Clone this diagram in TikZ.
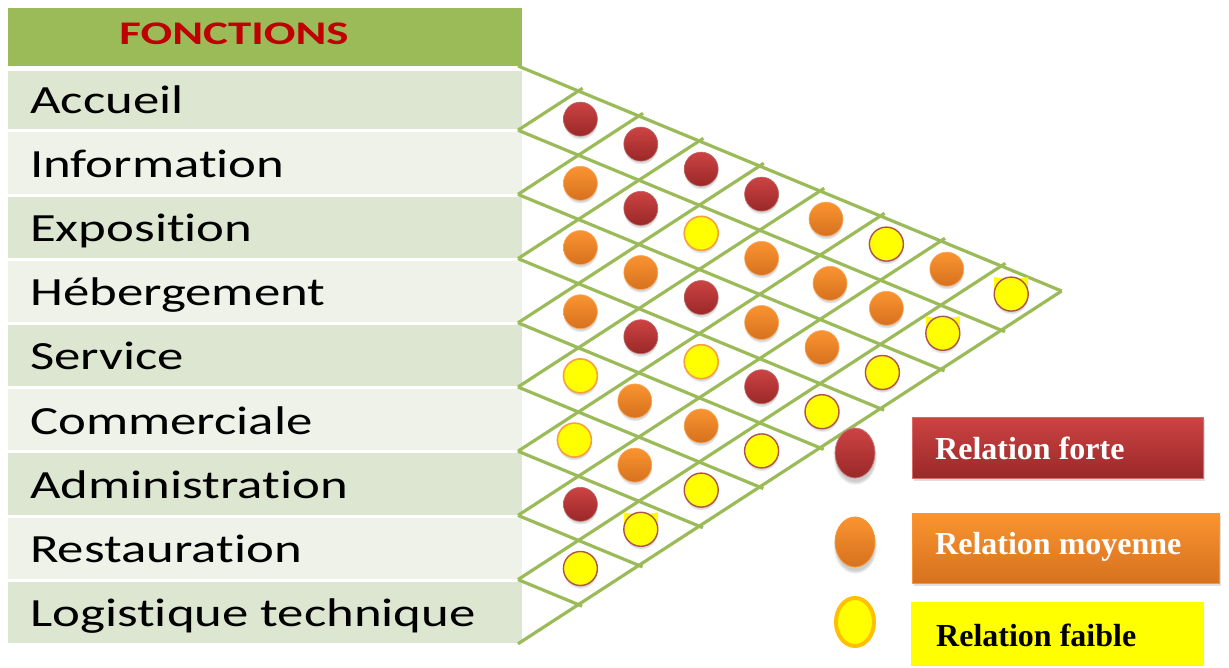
\documentclass[tikz,border=0pt]{standalone}
\usepackage{fontspec}
\setmainfont{Carlito}[Ligatures={NoCommon}]
\newfontfamily\legendfont{Liberation Serif}
\usetikzlibrary{shadows,calc,shapes.geometric}
\definecolor{hdrgreen}{HTML}{9BBB59}
\definecolor{rowdark}{HTML}{DDE6D0}
\definecolor{rowlight}{HTML}{EEF2E8}
\definecolor{fnred}{HTML}{C00000}
\definecolor{gridgreen}{HTML}{9BBB59}
\definecolor{redtop}{HTML}{CD4343}
\definecolor{redbot}{HTML}{9A2828}
\definecolor{orgtop}{HTML}{FA9430}
\definecolor{orgbot}{HTML}{D6711F}
\definecolor{ybordero}{HTML}{F7A040}
\definecolor{yborderb}{HTML}{B0524A}
\definecolor{ylegborder}{HTML}{FFC000}
\definecolor{pureyellow}{HTML}{FFFF00}
\newcommand{\hstretch}[2]{\scalebox{#1}[1]{#2}}
\begin{document}
\begin{tikzpicture}[x=1pt,y=-1pt,
  rowbox/.style={rectangle, draw=none, inner sep=0pt, minimum width=514pt, anchor=north west},
  rowlabel/.style={anchor=base west, inner sep=0pt, font=\fontsize{40}{40}\selectfont},
  gridline/.style={draw=gridgreen, line width=3.2pt},
  dotbase/.style={circle, minimum size=34pt, inner sep=0pt,
     circular drop shadow={shadow xshift=0pt, shadow yshift=-3pt, shadow scale=1.02, opacity=0.35}},
  dotR/.style={dotbase, top color=redtop, bottom color=redbot, draw=redbot!70!white, line width=0.6pt},
  dotO/.style={dotbase, top color=orgtop, bottom color=orgbot, draw=orgtop!80!white, line width=0.6pt},
  dotYo/.style={dotbase, fill=pureyellow, draw=ybordero, line width=1.6pt},
  dotYb/.style={dotbase, fill=pureyellow, draw=yborderb, line width=1.4pt},
  legbox/.style={rectangle, inner sep=0pt, anchor=north west},
  legtext/.style={anchor=base west, inner sep=0pt, font=\legendfont\bfseries\fontsize{32}{32}\selectfont},
  legdot/.style={ellipse, inner sep=0pt, minimum width=40pt, minimum height=50pt}
]
\useasboundingbox (0,0) rectangle (1229,668);
\fill[white] (0,0) rectangle (1229,668);

% header
\node[rowbox, fill=hdrgreen, minimum height=58pt] (hdr) at (8,8) {};
\node[anchor=base, inner sep=0pt, text=fnred, font=\bfseries\fontsize{33}{33}\selectfont] (hdrtxt) at (234,45) {\hstretch{1.42}{FONCTIONS}};

% rows
\foreach \i/\name/\col in {1/Accueil/rowdark, 2/Information/rowlight, 3/Exposition/rowdark,
  4/Hébergement/rowlight, 5/Service/rowdark, 6/Commerciale/rowlight, 7/Administration/rowdark,
  8/Restauration/rowlight, 9/Logistique technique/rowdark}{
  \pgfmathsetmacro{\top}{ifthenelse(\i==1,71,66+64.2*(\i-1)+2)}
  \pgfmathsetmacro{\bot}{66+64.2*\i-1}
  \pgfmathsetmacro{\hgt}{\bot-\top}
  \node[rowbox, fill=\col, minimum height=\hgt pt] (row\i) at (8,\top) {};
  \pgfmathsetmacro{\base}{66+64.2*(\i-0.5)+15}
  \node[rowlabel] (lab\i) at (30,\base) {\hstretch{1.32}{\name}};
}

% grid
\foreach \i in {0,...,9}{ \coordinate (L\i) at (518,{66+64.2*\i}); }
\coordinate (apex) at (1061.6,291);
\draw[gridline] (L0) -- (apex);
\foreach \i in {1,...,8}{
  \draw[gridline, shorten >=-4pt] (L\i) -- ++({60.4*(9-\i)},{25*(9-\i)});
}
\foreach \i in {1,...,8}{
  \draw[gridline, shorten >=-5pt] (L\i) -- ++({60.4*\i},{-39.2*\i});
}
\draw[gridline] (L9) -- (apex);

% ears of a few yellow dots
\foreach \i/\k/\dx in {7/2/0, 2/7/0, 1/8/8}{
  \coordinate (e\i\k) at ({520+60.4*\k+\dx},{29.9+64.2*\i+25*\k});
  \fill[pureyellow] ($(e\i\k)+(-17,-4)$) -- ($(e\i\k)+(-17,-17)$) -- ($(e\i\k)+(-5,-15)$) -- cycle;
  \fill[pureyellow] ($(e\i\k)+(17,-4)$) -- ($(e\i\k)+(17,-17)$) -- ($(e\i\k)+(5,-15)$) -- cycle;
}

% dots
\foreach \i/\k/\t/\dx in {
  1/1/dotR/0, 2/1/dotO/0, 3/1/dotO/0, 4/1/dotO/0, 5/1/dotYo/0, 6/1/dotYo/-6, 7/1/dotR/0, 8/1/dotYb/0,
  1/2/dotR/0, 2/2/dotR/0, 3/2/dotO/0, 4/2/dotR/0, 5/2/dotO/-6, 6/2/dotO/-6, 7/2/dotYb/0,
  1/3/dotR/0, 2/3/dotYo/0, 3/3/dotR/0, 4/3/dotYo/0, 5/3/dotO/0, 6/3/dotYb/0,
  1/4/dotR/0, 2/4/dotO/0, 3/4/dotO/0, 4/4/dotR/0, 5/4/dotYb/0,
  1/5/dotO/4, 2/5/dotO/8, 3/5/dotO/0, 4/5/dotYb/0,
  1/6/dotYb/4, 2/6/dotO/4, 3/6/dotYb/0,
  1/7/dotO/4, 2/7/dotYb/0,
  1/8/dotYb/8}{
  \node[\t] (d\i\k) at ({520+60.4*\k+\dx},{29.9+64.2*\i+25*\k}) {};
}

% legend
\node[legdot, top color=redtop, bottom color=redbot, draw=redbot!60!white, line width=0.8pt,
  circular drop shadow={shadow xshift=0pt, shadow yshift=-4pt, opacity=0.4}] (lgR) at (855,453) {};
\node[legdot, top color=orgtop, bottom color=orgbot, draw=orgtop, line width=0.8pt,
  circular drop shadow={shadow xshift=0pt, shadow yshift=-4pt, opacity=0.4}] (lgO) at (855,542) {};
\node[legdot, fill=pureyellow, draw=ylegborder, line width=4pt, minimum width=38pt, minimum height=48pt] (lgY) at (855,622) {};

\node[legbox, minimum width=291pt, minimum height=61pt, top color=redtop, bottom color=redbot,
  draw=redtop!80!white, line width=0.8pt,
  drop shadow={shadow xshift=2pt, shadow yshift=-3pt, opacity=0.25}] (bxR) at (912,417) {};
\node[legtext, text=white] (txR) at (935,459) {Relation forte};

\node[legbox, minimum width=307pt, minimum height=70pt, top color=orgtop, bottom color=orgbot,
  draw=orgtop, line width=0.8pt,
  drop shadow={shadow xshift=2pt, shadow yshift=-3pt, opacity=0.25}] (bxO) at (912,513) {};
\node[legtext, text=white] (txO) at (935,554) {Relation moyenne};

\node[legbox, minimum width=293pt, minimum height=64pt, fill=pureyellow] (bxY) at (911,602) {};
\node[legtext, text=black] (txY) at (936,646) {Relation faible};
\end{tikzpicture}
\end{document}
